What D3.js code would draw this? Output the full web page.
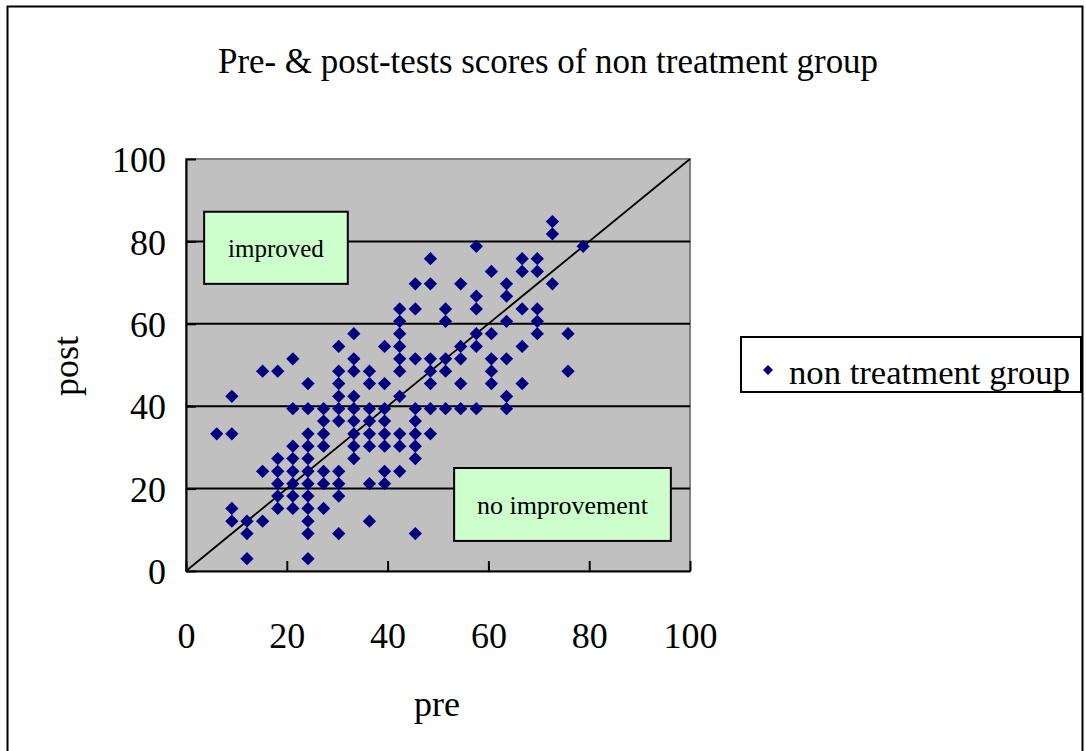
<!DOCTYPE html>
<html>
<head>
<meta charset="utf-8">
<script src="https://cdn.jsdelivr.net/npm/d3@7"></script>
<style>
  body { margin: 0; background: #fff; }
  svg { display: block; font-family: "Liberation Serif", "DejaVu Serif", serif; }
</style>
</head>
<body>
<div id="chart"></div>
<script>
// pre / post test scores (percent), one line per post level
const pre = [
  12.1, 24.2,
  12.1, 24.2, 30.3, 45.5,
  9.1, 12.1, 15.2, 24.2, 36.4,
  9.1, 18.2, 21.2, 24.2, 27.3,
  18.2, 21.2, 24.2, 30.3,
  18.2, 21.2, 24.2, 27.3, 30.3, 36.4, 39.4,
  15.2, 18.2, 21.2, 24.2, 27.3, 30.3, 39.4, 42.4,
  18.2, 21.2, 24.2, 33.3, 45.5,
  21.2, 24.2, 27.3, 33.3, 36.4, 39.4, 42.4, 45.5,
  6.1, 9.1, 24.2, 27.3, 33.3, 36.4, 39.4, 42.4, 45.5, 48.5,
  27.3, 30.3, 33.3, 36.4, 39.4, 45.5,
  21.2, 24.2, 27.3, 30.3, 33.3, 36.4, 39.4, 45.5, 48.5, 51.5, 54.5, 57.6, 63.6,
  9.1, 30.3, 33.3, 42.4, 63.6,
  24.2, 30.3, 36.4, 39.4, 48.5, 54.5, 60.6, 66.7,
  15.2, 18.2, 30.3, 33.3, 36.4, 42.4, 48.5, 51.5, 60.6, 75.8,
  21.2, 33.3, 42.4, 45.5, 48.5, 51.5, 54.5, 60.6, 63.6,
  30.3, 39.4, 42.4, 54.5, 57.6, 66.7,
  33.3, 42.4, 57.6, 60.6, 69.7, 75.8,
  42.4, 51.5, 63.6, 69.7,
  42.4, 45.5, 51.5, 57.6, 66.7, 69.7,
  57.6, 63.6,
  45.5, 48.5, 54.5, 63.6, 72.7,
  60.6, 66.7, 69.7,
  48.5, 66.7, 69.7,
  57.6, 78.8,
  72.7,
  72.7
];
const post = [
  3.0, 3.0,
  9.1, 9.1, 9.1, 9.1,
  12.1, 12.1, 12.1, 12.1, 12.1,
  15.2, 15.2, 15.2, 15.2, 15.2,
  18.2, 18.2, 18.2, 18.2,
  21.2, 21.2, 21.2, 21.2, 21.2, 21.2, 21.2,
  24.2, 24.2, 24.2, 24.2, 24.2, 24.2, 24.2, 24.2,
  27.3, 27.3, 27.3, 27.3, 27.3,
  30.3, 30.3, 30.3, 30.3, 30.3, 30.3, 30.3, 30.3,
  33.3, 33.3, 33.3, 33.3, 33.3, 33.3, 33.3, 33.3, 33.3, 33.3,
  36.4, 36.4, 36.4, 36.4, 36.4, 36.4,
  39.4, 39.4, 39.4, 39.4, 39.4, 39.4, 39.4, 39.4, 39.4, 39.4, 39.4, 39.4, 39.4,
  42.4, 42.4, 42.4, 42.4, 42.4,
  45.5, 45.5, 45.5, 45.5, 45.5, 45.5, 45.5, 45.5,
  48.5, 48.5, 48.5, 48.5, 48.5, 48.5, 48.5, 48.5, 48.5, 48.5,
  51.5, 51.5, 51.5, 51.5, 51.5, 51.5, 51.5, 51.5, 51.5,
  54.5, 54.5, 54.5, 54.5, 54.5, 54.5,
  57.6, 57.6, 57.6, 57.6, 57.6, 57.6,
  60.6, 60.6, 60.6, 60.6,
  63.6, 63.6, 63.6, 63.6, 63.6, 63.6,
  66.7, 66.7,
  69.7, 69.7, 69.7, 69.7, 69.7,
  72.7, 72.7, 72.7,
  75.8, 75.8, 75.8,
  78.8, 78.8,
  81.8,
  84.8
];
const xTicks = [0, 20, 40, 60, 80, 100];
const yTicks = [0, 20, 40, 60, 80, 100];
const gridValues = [20, 40, 60, 80];
const seriesName = "non treatment group";
const titleText = "Pre- & post-tests scores of non treatment group";

var width = 1086, height = 751;
var svg = d3.select("#chart").append("svg").attr("width", width).attr("height", height);

// outer frame
svg.append("rect").attr("x", 7.5).attr("y", 6.5).attr("width", 1075).attr("height", 760)
  .attr("fill", "#fff").attr("stroke", "#000").attr("stroke-width", 2);

var x = d3.scaleLinear().domain([0, 100]).range([186, 690]);
var y = d3.scaleLinear().domain([0, 100]).range([571, 159]);

// plot area
svg.append("rect").attr("x", x(0)).attr("y", y(100))
  .attr("width", x(100) - x(0)).attr("height", y(0) - y(100))
  .attr("fill", "#c0c0c0").attr("stroke", "#808080").attr("stroke-width", 2);

// horizontal gridlines
svg.selectAll(".grid").data(gridValues).enter().append("line")
  .attr("x1", x(0)).attr("x2", x(100))
  .attr("y1", d => y(d)).attr("y2", d => y(d))
  .attr("stroke", "#000").attr("stroke-width", 2);

// annotation boxes (in data units)
var notes = [
  {label: "improved", x0: 3.6, x1: 32.1, y0: 69.7, y1: 87.2, size: 25},
  {label: "no improvement", x0: 53.2, x1: 96.2, y0: 7.3, y1: 25.0, size: 26}
];
notes.forEach(function(n) {
  svg.append("rect").attr("x", x(n.x0)).attr("y", y(n.y1))
    .attr("width", x(n.x1) - x(n.x0)).attr("height", y(n.y0) - y(n.y1))
    .attr("fill", "#ccffcc").attr("stroke", "#000").attr("stroke-width", 2);
  svg.append("text").attr("x", (x(n.x0) + x(n.x1)) / 2).attr("y", (y(n.y0) + y(n.y1)) / 2)
    .attr("dy", "0.35em").attr("text-anchor", "middle").attr("font-size", n.size)
    .text(n.label);
});

// diagonal: post == pre
svg.append("path")
  .attr("d", d3.line().x(d => x(d)).y(d => y(d))([0, 100]))
  .attr("stroke", "#000").attr("stroke-width", 1.8).attr("fill", "none");

// axes
var xAxis = svg.append("g").attr("transform", `translate(0, ${y(0)})`)
  .call(d3.axisBottom(x).tickValues(xTicks).tickSizeInner(-10).tickSizeOuter(0).tickPadding(0));
var yAxis = svg.append("g").attr("transform", `translate(${x(0)}, 0)`)
  .call(d3.axisLeft(y).tickValues(yTicks).tickSizeInner(-10).tickSizeOuter(0).tickPadding(0));
[xAxis, yAxis].forEach(function(g) {
  g.select(".domain").attr("stroke", "#000").attr("stroke-width", 2);
  g.selectAll(".tick line").attr("stroke", "#000").attr("stroke-width", 2);
  g.selectAll("text").attr("font-family", "Liberation Serif").attr("font-size", 36).attr("fill", "#000");
});
xAxis.selectAll(".tick text").attr("y", 64).attr("dy", "0.35em");
yAxis.selectAll(".tick text").attr("x", -20).attr("dy", "0.35em");

// points
var pts = pre.map((p, i) => [p, post[i]]);
var diamond = d3.symbol().type(d3.symbolSquare).size(88);
svg.selectAll(".pt").data(pts).enter().append("path")
  .attr("class", "pt")
  .attr("d", diamond)
  .attr("transform", d => `translate(${x(d[0])}, ${y(d[1])}) rotate(45)`)
  .attr("fill", "#000080");

// title and axis labels
svg.append("text").attr("x", 548).attr("y", 60).attr("dy", "0.35em")
  .attr("text-anchor", "middle").attr("font-size", 36)
  .attr("textLength", 660).attr("lengthAdjust", "spacingAndGlyphs")
  .text(titleText);
svg.append("text").attr("x", 437).attr("y", 703).attr("dy", "0.35em")
  .attr("text-anchor", "middle").attr("font-size", 36).text("pre");
svg.append("text").attr("transform", "translate(65, 366) rotate(-90)").attr("dy", "0.35em")
  .attr("text-anchor", "middle").attr("font-size", 36).text("post");

// legend
svg.append("rect").attr("x", 741).attr("y", 337).attr("width", 340).attr("height", 55)
  .attr("fill", "#fff").attr("stroke", "#000").attr("stroke-width", 2);
svg.append("path").attr("d", d3.symbol().type(d3.symbolSquare).size(50))
  .attr("transform", "translate(768, 370) rotate(45)").attr("fill", "#000080");
svg.append("text").attr("x", 789).attr("y", 372).attr("dy", "0.35em")
  .attr("font-size", 33).attr("textLength", 281).attr("lengthAdjust", "spacingAndGlyphs")
  .text(seriesName);
</script>
</body>
</html>
